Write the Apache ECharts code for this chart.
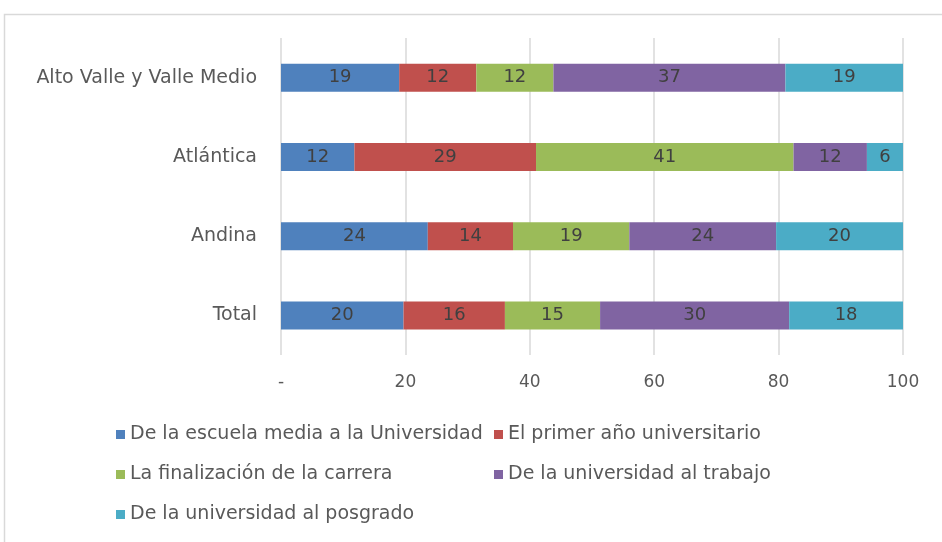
<!DOCTYPE html>
<html>
<head>
<meta charset="utf-8">
<script src="https://cdn.jsdelivr.net/npm/echarts@6/dist/echarts.min.js"></script>
<style>html,body{margin:0;padding:0;background:#fff}#c{width:942px;height:542px}</style>
</head>
<body>
<div id="c"></div>
<script>
var categories = ['Total', 'Andina', 'Atlántica', 'Alto Valle y Valle Medio'];
var seriesNames = ['De la escuela media a la Universidad', 'El primer año universitario', 'La finalización de la carrera', 'De la universidad al trabajo', 'De la universidad al posgrado'];
var escuelaMedia = [19.7, 23.6, 11.8, 19.0];
var primerAnio = [16.3, 13.7, 29.2, 12.4];
var finalizacion = [15.3, 18.7, 41.4, 12.4];
var trabajo = [30.4, 23.6, 11.8, 37.3];
var posgrado = [18.3, 20.4, 5.8, 18.9];
var xTicks = [0, 20, 40, 60, 80, 100];
var colors = ['#4f81bd', '#c0504d', '#9bbb59', '#8064a2', '#4bacc6'];

var values = [escuelaMedia, primerAnio, finalizacion, trabajo, posgrado];
var font = '"DejaVu Sans", sans-serif';
var chart = echarts.init(document.getElementById('c'));
var series = seriesNames.map(function (n, i) {
  return {
    name: n, type: 'bar', stack: 'all', data: values[i], barWidth: 28,
    itemStyle: { color: colors[i] },
    label: { show: true, position: 'inside', color: '#404040', fontSize: 18, fontFamily: font,
      formatter: function (p) { return Math.round(p.value); } }
  };
});
chart.setOption({
  animation: false,
  graphic: [{ type: 'rect', shape: { x: 4.5, y: 14.5, width: 1000, height: 600 }, style: { fill: 'none', stroke: '#d9d9d9', lineWidth: 1.5 } }],
  grid: { left: 281, right: 39, top: 38, bottom: 187 },
  xAxis: {
    type: 'value', min: xTicks[0], max: xTicks[xTicks.length - 1], interval: 20,
    axisLine: { show: false }, axisTick: { show: false },
    splitLine: { lineStyle: { color: '#d9d9d9', width: 1.5 } },
    axisLabel: { color: '#595959', fontSize: 17, fontFamily: font, margin: 19,
      formatter: function (v) { return v === 0 ? '-' : String(v); } }
  },
  yAxis: {
    type: 'category', data: categories,
    axisLine: { show: false }, axisTick: { show: false },
    axisLabel: { color: '#595959', fontSize: 19, fontFamily: font, margin: 24 }
  },
  legend: [
    { orient: 'vertical', left: 111, top: 420, itemGap: 21, itemWidth: 9, itemHeight: 9, icon: 'rect',
      textStyle: { color: '#595959', fontSize: 19, fontFamily: font },
      data: [seriesNames[0], seriesNames[2], seriesNames[4]] },
    { orient: 'vertical', left: 489, top: 420, itemGap: 21, itemWidth: 9, itemHeight: 9, icon: 'rect',
      textStyle: { color: '#595959', fontSize: 19, fontFamily: font },
      data: [seriesNames[1], seriesNames[3]] }
  ],
  series: series
});
</script>
</body>
</html>
